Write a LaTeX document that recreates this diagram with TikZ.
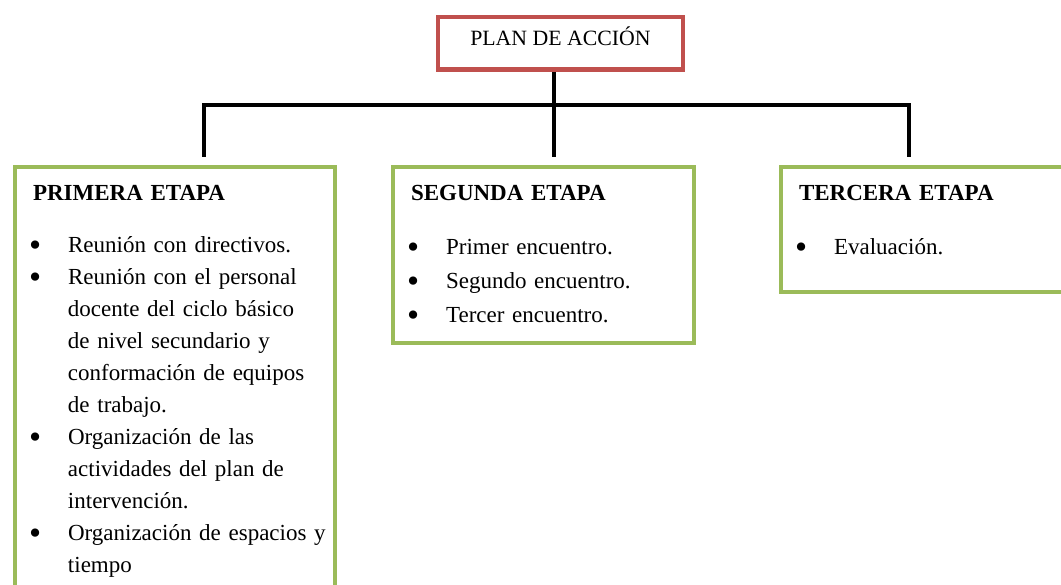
\documentclass[tikz,border=0pt]{standalone}
\usepackage{fontspec}
\setmainfont{Liberation Serif}
\usepackage{graphicx}
\usepackage{xcolor}
\usepackage{tikz}
\usetikzlibrary{positioning}
\definecolor{planRed}{HTML}{C0504D}
\definecolor{planGreen}{HTML}{9BBB59}
\tolerance=10000
\hbadness=10000
\hyphenpenalty=10000
\newcommand{\etapabullet}{\raisebox{-4.5pt}[0pt][0pt]{\scalebox{1.5}{\textbullet}}}
\newenvironment{etapalist}{\begin{list}{\etapabullet}{%
  \setlength{\leftmargin}{35pt}\setlength{\labelwidth}{12pt}%
  \setlength{\labelsep}{27pt}\setlength{\itemsep}{0pt}%
  \setlength{\parsep}{0pt}\setlength{\topsep}{0pt}%
  \setlength{\partopsep}{0pt}}}{\end{list}}
\newcommand{\etapaend}[1]{\par\vspace{#1}\hrule height 0pt}
\tikzset{
  link/.style={draw=black, line width=4pt},
  plan box/.style={draw=planRed, line width=4.5pt, minimum width=245pt,
    minimum height=52.7pt, inner sep=0pt, text height=14pt,
    text depth=9.2pt, font=\fontsize{21.8}{26}\selectfont},
  etapa/.style={draw=planGreen, line width=4pt, anchor=north west,
    outer sep=0pt, inner xsep=18pt, inner ysep=17.4pt,
    font=\fontsize{23}{34}\selectfont}
}

\begin{document}
\begin{tikzpicture}[x=1pt, y=-1pt]
  \useasboundingbox (0,0) rectangle (1061,585);
  \clip (0,0) rectangle (1061,585);
  \node[plan box] (plan) at (560.5,43.3) {PLAN DE ACCIÓN};
  \node[etapa, font=\fontsize{23}{32}\selectfont, text width=283.5pt] (uno)
    at (15,167.5) {{\bfseries PRIMERA ETAPA}\par\vspace{20pt}
    \begin{etapalist}
      \item Reunión con directivos.
      \item Reunión con el personal\linebreak docente del ciclo básico\linebreak
        de nivel secundario y\linebreak conformación de equipos\linebreak
        de trabajo.
      \item Organización de las\newline actividades del plan de\newline
        intervención.
      \item \makebox[200pt][l]{Organización de espacios y}\newline tiempo
    \end{etapalist}};
  \node[etapa, text width=265pt] (dos) at (393,167.5)
    {{\bfseries SEGUNDA ETAPA}\par\vspace{20pt}
    \begin{etapalist}
      \item Primer encuentro.
      \item Segundo encuentro.
      \item Tercer encuentro.
    \end{etapalist}\etapaend{3pt}};
  \node[etapa, text width=250pt] (tres) at (781,167.5)
    {{\bfseries TERCERA ETAPA}\par\vspace{20pt}
    \begin{etapalist}
      \item Evaluación.
    \end{etapalist}\etapaend{20.6pt}};
  % connectors
  \coordinate (hub) at (553.8,105.5);
  \coordinate (drop uno) at (204,157);
  \coordinate (drop tres) at (909,157);
  \coordinate (drop dos) at (hub |- drop uno);
  \draw[link] (plan.south -| hub) -- (drop dos);
  \draw[link] (drop uno) |- (hub) -| (drop tres);
\end{tikzpicture}
\end{document}
